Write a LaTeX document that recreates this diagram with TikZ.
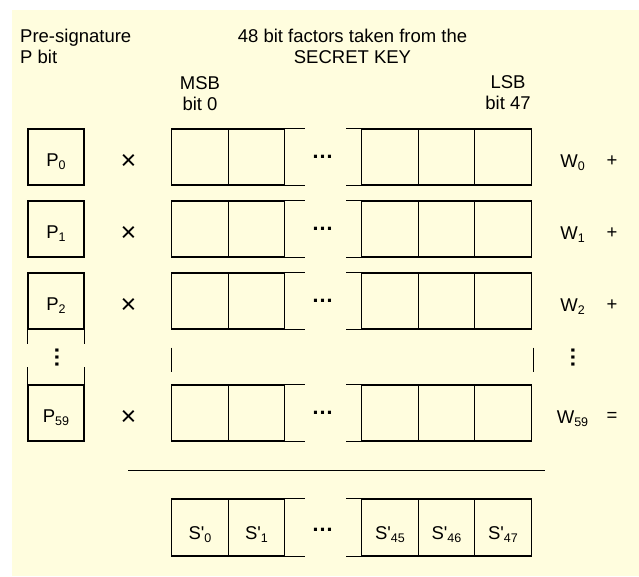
\documentclass[tikz,border=0pt]{standalone}
\usepackage{fontspec}
\setmainfont{Liberation Sans}
\usetikzlibrary{calc}
\definecolor{bg}{RGB}{255,253,222}
\newcommand\sbs[1]{\raisebox{-3pt}{\fontsize{12.5}{12.5}\selectfont #1}}
\begin{document}
\begin{tikzpicture}[x=1pt,y=-1pt,
  every node/.style={font=\fontsize{18.5}{21}\selectfont, text=black},
  pbox/.style={draw, line width=1.1pt, minimum width=56pt, minimum height=56pt, inner sep=0pt},
  kbox/.style={draw, line width=1.1pt, minimum width=56.5pt, minimum height=56pt, inner sep=0pt},
  lab/.style={anchor=base, inner sep=0pt},
  sym/.style={inner sep=0pt},
  times/.style={inner sep=0pt, font=\fontsize{27}{27}\selectfont},
  dotsn/.style={font=\fontsize{22}{22}\selectfont\bfseries, inner sep=0pt},
  conn/.style={line width=1.1pt}]
\useasboundingbox (0,0) rectangle (639,576);
\fill[bg] (12,10) rectangle (639,576);

% headers
\node[anchor=north west, align=left, inner sep=0pt] (hp) at (20,28.5) {Pre-signature\\P bit};
\node[anchor=north, align=center, inner sep=0pt] (hk) at (352.5,28.5) {48 bit factors taken from the\\SECRET KEY};
\node[anchor=north, align=center, inner sep=0pt] (hm) at (200,76.5) {MSB\\bit 0};
\node[anchor=north, align=center, inner sep=0pt] (hl) at (508,75.5) {LSB\\bit 47};

% rows
\foreach \r/\yy/\op in {0/157/+, 1/229/+, 2/301/+, 59/413/=} {
  \node[pbox] (P\r) at (56,\yy) {};
  \node[lab] (Pl\r) at ($(P\r.center)+(0,9)$) {P\sbs{\r}};
  \node[times] (X\r) at (128.5,\yy+5) {×};
  \node[kbox] (Ka\r) at (200,\yy) {};
  \node[kbox] (Kb\r) at (256.5,\yy) {};
  \node[kbox] (Kc\r) at (390,\yy) {};
  \node[kbox] (Kd\r) at (446.5,\yy) {};
  \node[kbox] (Ke\r) at (503,\yy) {};
  \draw[conn] (Kb\r.north east) -- ++(20,0);
  \draw[conn] (Kb\r.south east) -- ++(20,0);
  \draw[conn] (Kc\r.north west) -- ++(-15.5,0);
  \draw[conn] (Kc\r.south west) -- ++(-15.5,0);
  \node[dotsn] (D\r) at (322.5,\yy) {…};
  \node[lab] (W\r) at (572.5,\yy+10) {W\sbs{\r}};
  \node[sym] (O\r) at (612,\yy+4) {\op};
}

% vertical ellipsis row
\draw[conn] (P2.south west) -- ++(0,14);
\draw[conn] (P2.south east) -- ++(0,14);
\draw[conn] (P59.north west) -- ++(0,-17);
\draw[conn] (P59.north east) -- ++(0,-17);
\node[dotsn, rotate=90] (vdl) at (57,357) {…};
\draw[conn] ($(Ka2.south west)+(0,18)$) -- ($(Ka59.north west)+(0,-12)$);
\draw[conn] ($(Ke2.south east)+(2,18)$) -- ($(Ke59.north east)+(2,-12)$);
\node[dotsn, rotate=90] (vdr) at (573,357) {…};

% sum rule
\coordinate (rl) at (128,470);
\coordinate (rr) at (545,470);
\draw[line width=1pt] (rl) -- (rr);

% result row
\foreach \n/\x/\s in {a/200/0, b/256.5/1, c/390/45, d/446.5/46, e/503/47} {
  \node[kbox, minimum height=57pt] (S\n) at (\x,527.5) {};
  \node[lab] (Sl\n) at ($(S\n.center)+(0,12)$) {S\textquotesingle\sbs{\s}};
}
\draw[conn] (Sb.north east) -- ++(20,0);
\draw[conn] (Sb.south east) -- ++(20,0);
\draw[conn] (Sc.north west) -- ++(-15.5,0);
\draw[conn] (Sc.south west) -- ++(-15.5,0);
\node[dotsn] (DS) at (322.5,529.5) {…};
\end{tikzpicture}
\end{document}
